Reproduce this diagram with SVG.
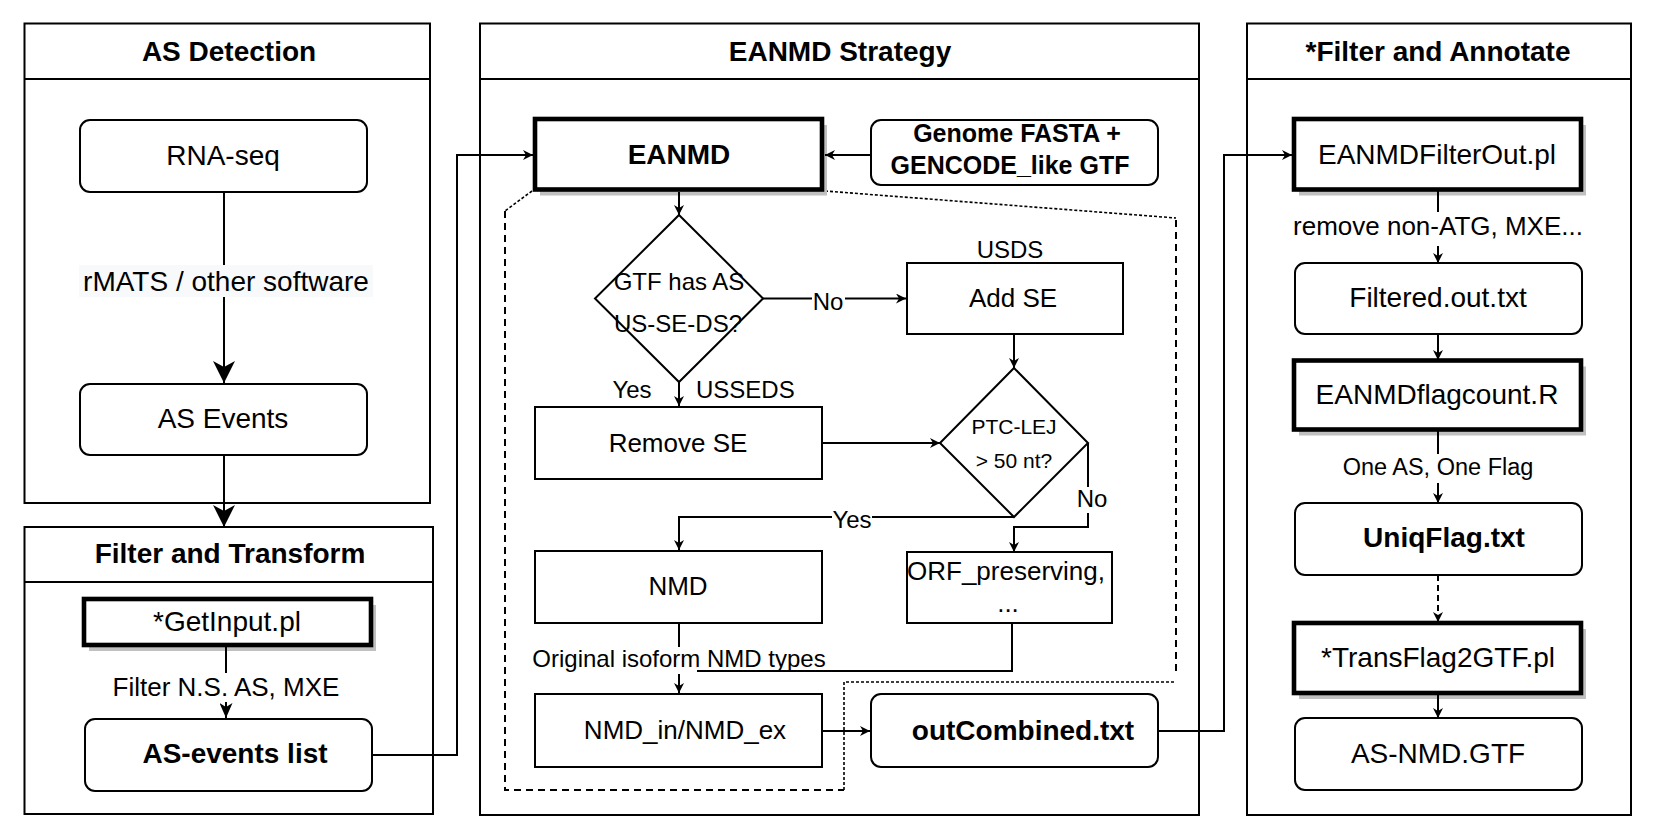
<svg xmlns="http://www.w3.org/2000/svg" width="1654" height="826" viewBox="0 0 1654 826">
<style>
  text { font-family: "Liberation Sans", Arial, sans-serif; fill: #000; text-anchor: middle; }
  .h { font-size: 28px; font-weight: bold; }
  .n28 { font-size: 28px; }
  .n26 { font-size: 26px; }
  .b28 { font-size: 28px; font-weight: bold; }
  .b25 { font-size: 25px; font-weight: bold; }
  .l24 { font-size: 24px; }
  .l26 { font-size: 26px; }
  .l23 { font-size: 23.5px; }
  .l21 { font-size: 21px; }
  .lane { fill: #fff; stroke: #000; stroke-width: 2; }
  .box { fill: #fff; stroke: #000; stroke-width: 2; }
  .thick { fill: #fff; stroke: #000; stroke-width: 4.6; }
  .shadow { fill: #c0c0c0; stroke: none; }
  .e { fill: none; stroke: #000; stroke-width: 2; }
  .dash { fill: none; stroke: #000; stroke-width: 2; stroke-dasharray: 7 5; }
  .dot { fill: none; stroke: #000; stroke-width: 1.6; stroke-dasharray: 3 2; }
  .lbg { fill: #fff; stroke: none; }
</style>
<defs>
  <marker id="aS" markerUnits="userSpaceOnUse" viewBox="0 0 10 10" refX="10" refY="5" markerWidth="10" markerHeight="10" orient="auto">
    <path d="M0,0 L10,5 L0,10 L3,5 Z" fill="#000"/>
  </marker>
  <marker id="aM" markerUnits="userSpaceOnUse" viewBox="0 0 15 13" refX="15" refY="6.5" markerWidth="15" markerHeight="13" orient="auto">
    <path d="M0,0 L15,6.5 L0,13 L4,6.5 Z" fill="#000"/>
  </marker>
  <marker id="aL" markerUnits="userSpaceOnUse" viewBox="0 0 22 22" refX="22" refY="11" markerWidth="22" markerHeight="22" orient="auto">
    <path d="M0,0 L22,11 L0,22 L6,11 Z" fill="#000"/>
  </marker>
</defs>
<rect width="1654" height="826" fill="#fff"/>

<!-- Swimlanes -->
<g id="lane-as-detection">
  <rect class="lane" x="24.5" y="23.5" width="405.5" height="479.5"/>
  <line class="e" x1="24.5" y1="79" x2="430" y2="79"/>
  <text class="h" x="229" y="61">AS Detection</text>
</g>
<g id="lane-filter-transform">
  <rect class="lane" x="24.5" y="527" width="408.5" height="287"/>
  <line class="e" x1="24.5" y1="582" x2="433" y2="582"/>
  <text class="h" x="230" y="563">Filter and Transform</text>
</g>
<g id="lane-eanmd-strategy">
  <rect class="lane" x="480" y="23.5" width="719" height="791.5"/>
  <line class="e" x1="480" y1="79" x2="1199" y2="79"/>
  <text class="h" x="840" y="61">EANMD Strategy</text>
</g>
<g id="lane-filter-annotate">
  <rect class="lane" x="1247" y="23.5" width="384" height="791.5"/>
  <line class="e" x1="1247" y1="79" x2="1631" y2="79"/>
  <text class="h" x="1438" y="61">*Filter and Annotate</text>
</g>

<!-- Dashed region -->
<g id="eanmd-region">
  <path class="dot" d="M532,191 L505,211"/>
  <path class="dash" d="M505,211 L505,790 L844,790"/>
  <path class="dot" d="M844,790 L844,682 L1174,682"/>
  <path class="dot" d="M825,191 L1176,218"/>
  <path class="dash" d="M1176,220 L1176,674"/>
</g>

<!-- Nodes -->
<g id="node-rnaseq">
  <rect class="box" x="80" y="120" width="287" height="72" rx="10"/>
  <text class="n28" x="223" y="164.5">RNA-seq</text>
</g>
<g id="node-as-events">
  <rect class="box" x="80" y="384" width="287" height="71" rx="10"/>
  <text class="n28" x="223" y="428">AS Events</text>
</g>
<g id="node-getinput">
  <rect class="shadow" x="89" y="605" width="287" height="46"/>
  <rect class="thick" x="84" y="599" width="287" height="46"/>
  <text class="n28" x="227" y="631">*GetInput.pl</text>
</g>
<g id="node-as-events-list">
  <rect class="box" x="85" y="719" width="287" height="72" rx="10"/>
  <text class="b28" x="235" y="763">AS-events list</text>
</g>

<g id="node-eanmd">
  <rect class="shadow" x="540" y="125" width="287" height="70.5"/>
  <rect class="thick" x="535" y="119" width="287" height="70.5"/>
  <text class="b28" x="679" y="163.5">EANMD</text>
</g>
<g id="node-genome">
  <rect class="box" x="871" y="120" width="287" height="65" rx="10"/>
  <text class="b25" x="1017" y="142">Genome FASTA +</text>
  <text class="b25" x="1010" y="174">GENCODE_like GTF</text>
</g>
<g id="node-gtf-decision">
  <polygon class="box" points="679,215 763,298.5 679,382 595,298.5"/>
  <text class="l24" x="679" y="290">GTF has AS</text>
  <text class="l24" x="678" y="331.5">US-SE-DS?</text>
</g>
<g id="node-add-se">
  <rect class="box" x="907" y="263" width="216" height="71"/>
  <text class="n26" x="1013" y="307">Add SE</text>
</g>
<g id="node-remove-se">
  <rect class="box" x="535" y="407" width="287" height="72"/>
  <text class="n26" x="678" y="451.5">Remove SE</text>
</g>
<g id="node-ptc-decision">
  <polygon class="box" points="1014,368 1088,443 1014,517 940,443"/>
  <text class="l21" x="1014" y="434">PTC-LEJ</text>
  <text class="l21" x="1014" y="468">&gt; 50 nt?</text>
</g>
<g id="node-nmd">
  <rect class="box" x="535" y="551" width="287" height="72"/>
  <text class="n26" x="678" y="595">NMD</text>
</g>
<g id="node-orf">
  <rect class="box" x="907" y="552" width="205" height="71"/>
  <text class="n26" x="1006" y="580">ORF_preserving,</text>
  <text class="n26" x="1008" y="612">...</text>
</g>
<g id="node-nmd-in-ex">
  <rect class="box" x="535" y="694" width="287" height="73"/>
  <text class="n26" x="685" y="739">NMD_in/NMD_ex</text>
</g>
<g id="node-outcombined">
  <rect class="box" x="871" y="694" width="287" height="73" rx="10"/>
  <text class="b28" x="1023" y="740">outCombined.txt</text>
</g>

<g id="node-filterout">
  <rect class="shadow" x="1299" y="125" width="287" height="70.5"/>
  <rect class="thick" x="1294" y="119" width="287" height="70.5"/>
  <text class="n28" x="1437" y="163.5">EANMDFilterOut.pl</text>
</g>
<g id="node-filtered">
  <rect class="box" x="1295" y="263" width="287" height="71" rx="10"/>
  <text class="n28" x="1438" y="307">Filtered.out.txt</text>
</g>
<g id="node-flagcount">
  <rect class="shadow" x="1299" y="366.5" width="287" height="69"/>
  <rect class="thick" x="1294" y="360.5" width="287" height="69"/>
  <text class="n28" x="1437" y="404">EANMDflagcount.R</text>
</g>
<g id="node-uniqflag">
  <rect class="box" x="1295" y="503" width="287" height="72" rx="10"/>
  <text class="b28" x="1444" y="547">UniqFlag.txt</text>
</g>
<g id="node-transflag">
  <rect class="shadow" x="1299" y="629" width="287" height="70"/>
  <rect class="thick" x="1294" y="623" width="287" height="70"/>
  <text class="n28" x="1438" y="667">*TransFlag2GTF.pl</text>
</g>
<g id="node-as-nmd-gtf">
  <rect class="box" x="1295" y="718" width="287" height="72" rx="10"/>
  <text class="n28" x="1438" y="763">AS-NMD.GTF</text>
</g>

<!-- Connectors -->
<g id="connectors">
  <path class="e" d="M224,192 V383" marker-end="url(#aL)"/>
  <rect x="79" y="265" width="294" height="32" fill="#f8f9fa"/>
  <text class="n28" x="226" y="291">rMATS / other software</text>

  <path class="e" d="M224,455 V527" marker-end="url(#aL)"/>

  <path class="e" d="M226,646 V718" marker-end="url(#aM)"/>
  <rect class="lbg" x="110" y="673" width="232" height="29"/>
  <text class="l26" x="226" y="696">Filter N.S. AS, MXE</text>

  <path class="e" d="M373,755 H457 V155 H533" marker-end="url(#aS)"/>
  <path class="e" d="M871,155 H825" marker-end="url(#aS)"/>
  <path class="e" d="M679,192 V215" marker-end="url(#aS)"/>

  <path class="e" d="M763,298.5 H906" marker-end="url(#aS)"/>
  <rect class="lbg" x="812" y="287" width="33" height="26"/>
  <text class="l24" x="828" y="310">No</text>

  <path class="e" d="M679,382 V406" marker-end="url(#aS)"/>
  <text class="l24" x="632" y="398">Yes</text>
  <text class="l24" x="696" y="398" style="text-anchor:start">USSEDS</text>
  <text class="l24" x="1010" y="258">USDS</text>

  <path class="e" d="M1014,334 V368" marker-end="url(#aS)"/>
  <path class="e" d="M822,443 H940" marker-end="url(#aS)"/>

  <path class="e" d="M1088,443 V527 H1014 V552" marker-end="url(#aS)"/>
  <rect class="lbg" x="1077" y="487" width="30" height="26"/>
  <text class="l24" x="1092" y="507">No</text>

  <path class="e" d="M1014,517 H679 V550" marker-end="url(#aS)"/>
  <rect class="lbg" x="832" y="507" width="40" height="24"/>
  <text class="l24" x="852" y="528">Yes</text>

  <path class="e" d="M679,623 V693" marker-end="url(#aS)"/>
  <rect class="lbg" x="531" y="647" width="296" height="27"/>
  <text class="l24" x="679" y="667">Original isoform NMD types</text>
  <path class="e" d="M1012,623 V671 H697"/>

  <path class="e" d="M822,731 H870" marker-end="url(#aS)"/>
  <path class="e" d="M1158,731 H1224 V155 H1292" marker-end="url(#aS)"/>

  <path class="e" d="M1438,190 V263" marker-end="url(#aS)"/>
  <rect class="lbg" x="1290" y="212" width="296" height="34"/>
  <text class="l26" x="1438" y="235">remove non-ATG, MXE...</text>

  <path class="e" d="M1438,334 V360" marker-end="url(#aS)"/>

  <path class="e" d="M1438,430 V503" marker-end="url(#aS)"/>
  <rect class="lbg" x="1340" y="454" width="196" height="29"/>
  <text class="l23" x="1438" y="475">One AS, One Flag</text>

  <path class="dash" style="stroke-dasharray:6 4" d="M1438,575 V622" marker-end="url(#aS)"/>
  <path class="e" d="M1438,693 V718" marker-end="url(#aS)"/>
</g>
</svg>
